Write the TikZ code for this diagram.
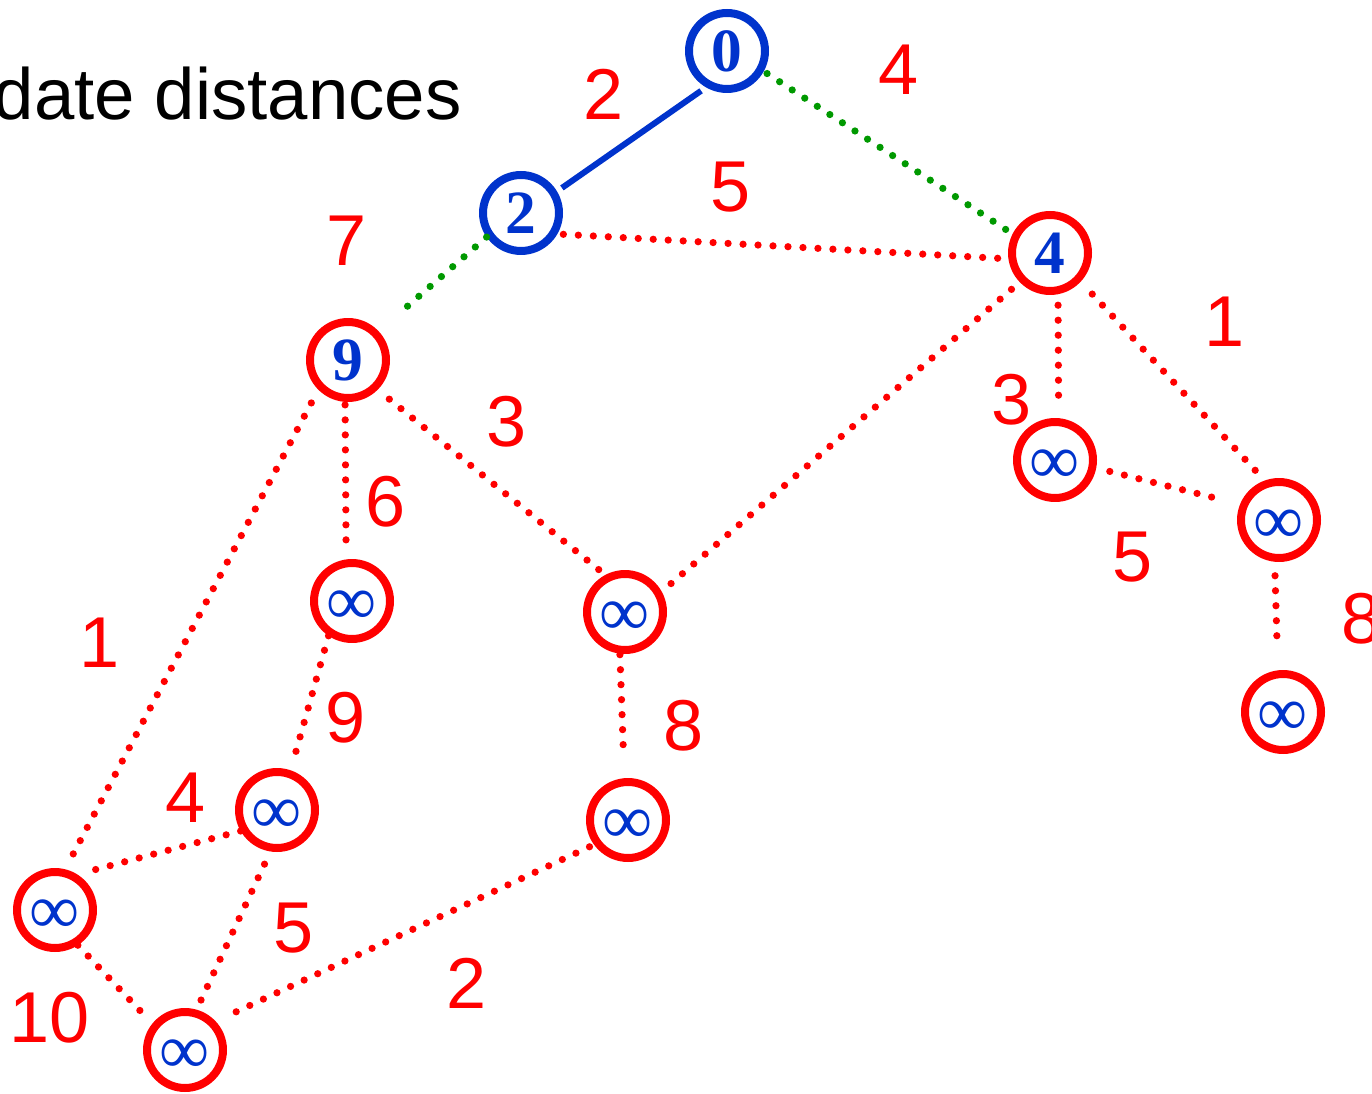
\documentclass[tikz,border=0pt]{standalone}
\usepackage{fontspec}
\setmainfont{Liberation Sans}
\newfontfamily\numfont{Liberation Serif}
\definecolor{nblue}{RGB}{0,51,204}
\definecolor{ngreen}{RGB}{0,153,0}
\definecolor{nred}{RGB}{255,0,0}
\begin{document}
\begin{tikzpicture}[x=0.02cm,y=-0.02cm,
 vtx/.style={circle,draw,line width=0.16cm,minimum size=1.52cm,inner sep=0pt,
   font=\numfont\bfseries\fontsize{35}{35}\selectfont,text=nblue},
 bluev/.style={vtx,draw=nblue},
 redv/.style={vtx,draw=nred},
 infv/.style={redv,label={[text=nblue,font=\numfont\fontsize{40}{40}\selectfont,yshift=-0.13cm]center:∞}},
 wt/.style={text=nred,font=\fontsize{41}{41}\selectfont,anchor=base,inner sep=0pt},
 treeedge/.style={draw=nblue,line width=0.12cm},
 dotline/.style={line width=0.145cm,line cap=round,dash pattern=on 0pt off 0.3cm},
 rdot/.style={dotline,draw=nred},
 gdot/.style={dotline,draw=ngreen}]
\useasboundingbox (0,0) rectangle (1372,1094);
\clip (0,0) rectangle (1372,1094);

\node[font=\fontsize{41.3}{41.3}\selectfont,anchor=base east,inner sep=0pt] (title) at (462,120) {Update distances};

% vertices
\node[bluev] (n0) at (727,51) {0};
\node[bluev] (n2) at (521,213) {2};
\node[redv] (n4) at (1050,253) {4};
\node[redv] (n9) at (348,360) {9};
\node[infv] (A) at (352,601) {};
\node[infv] (B) at (625,612) {};
\node[infv] (C) at (628,820) {};
\node[infv] (D) at (277,810) {};
\node[infv] (E) at (55,910) {};
\node[infv] (F) at (185,1050) {};
\node[infv] (G) at (1055,460) {};
\node[infv] (H) at (1279,520) {};
\node[infv] (I) at (1283,712) {};

% edges
\draw[treeedge,shorten <=0.12cm,shorten >=0.12cm] (n0.240) -- (n2.31);
\draw[gdot,shorten <=0.08cm,shorten >=0.10cm] (n0.331) -- (n4.153);
\draw[rdot,shorten <=0.12cm,shorten >=0.16cm] (n2.330) -- (n4.188);
\draw[gdot,shorten >=0.5cm] (n2.215) -- (n9.43);
\draw[rdot,shorten <=0.22cm,shorten >=0.26cm] (n4.281) -- (G.85);
\draw[rdot,shorten <=0.34cm,shorten >=0.24cm] (n4.317) -- (H.110);
\draw[rdot,shorten <=0.28cm,shorten >=0.46cm] (G.349) -- (H.158);
\draw[rdot,shorten <=0.28cm,shorten >=0.6cm] (H.264) -- (I.97);
\draw[rdot,shorten <=0.22cm,shorten >=0.14cm] (n4.224) -- (B.29);
\draw[rdot,shorten <=0.3cm,shorten >=0.06cm] (n9.315) -- (B.118);
\draw[rdot,shorten <=0.06cm,shorten >=0.22cm] (n9.266) -- (A.98);
\draw[rdot,shorten <=0.3cm,shorten >=0.14cm] (n9.225) -- (E.76);
\draw[rdot,shorten >=0.36cm] (A.236) -- (D.71);
\draw[rdot,shorten <=0.02cm,shorten >=0.52cm] (B.263) -- (C.95);
\draw[rdot,shorten >=0.2cm] (D.210) -- (E.58);
\draw[rdot,shorten <=0.28cm,shorten >=0.12cm] (D.261) -- (F.74);
\draw[rdot,shorten >=0.26cm] (E.303) -- (F.141);
\draw[rdot,shorten <=0.1cm,shorten >=0.28cm] (C.216) -- (F.43);

% weights
\node[wt] (w02) at (604,120) {2};
\node[wt] (w04) at (899,95) {4};
\node[wt] (w24) at (731,212) {5};
\node[wt] (w29) at (347,266) {7};
\node[wt] (w4G) at (1012,425) {3};
\node[wt] (w4H) at (1225,347) {1};
\node[wt] (wGH) at (1133,581) {5};
\node[wt] (wHI) at (1362,643) {8};
\node[wt] (w9A) at (386,526) {6};
\node[wt] (w9B) at (507,447) {3};
\node[wt] (w9E) at (100,667) {1};
\node[wt] (wAD) at (346,742) {9};
\node[wt] (wBC) at (684,750) {8};
\node[wt] (wDE) at (186,822) {4};
\node[wt] (wDF) at (294,952) {5};
\node[wt] (wEF) at (50,1042) {10};
\node[wt] (wCF) at (467,1008) {2};
\end{tikzpicture}
\end{document}
